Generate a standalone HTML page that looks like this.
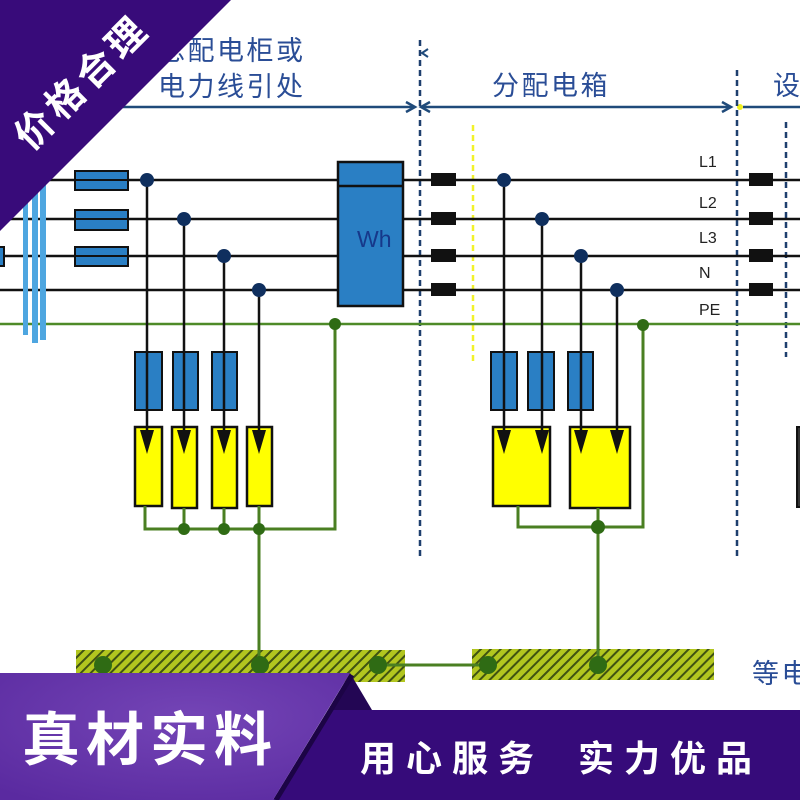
<!DOCTYPE html>
<html><head><meta charset="utf-8"><style>
html,body{margin:0;padding:0;background:#fff;}
svg{display:block}
</style></head><body>
<svg width="800" height="800" viewBox="0 0 800 800" xmlns="http://www.w3.org/2000/svg">
<defs>
<pattern id="hatch" patternUnits="userSpaceOnUse" width="7" height="7" patternTransform="rotate(45)">
<rect width="7" height="7" fill="#b2c61f"/>
<rect width="2" height="7" fill="#3f5212"/>
</pattern>
<radialGradient id="lp" cx="0.55" cy="0.35" r="0.8">
<stop offset="0" stop-color="#7445b6"/>
<stop offset="1" stop-color="#5a2aa0"/>
</radialGradient>
</defs>
<rect width="800" height="800" fill="#fff"/>

<!-- header texts -->
<g font-family="'Liberation Sans','Noto Sans CJK SC',sans-serif" font-size="27" fill="#2a4d96" letter-spacing="2.5">
<text x="158" y="60">总配电柜或</text>
<text x="158" y="96">电力线引处</text>
<text x="492" y="95">分配电箱</text>
<text x="773" y="95">设</text>
<text x="752" y="683">等电位</text>
</g>

<!-- arrow lines -->
<g stroke="#1f4a7a" stroke-width="2.5" fill="none">
<line x1="0" y1="107" x2="414" y2="107"/>
<polyline points="406,102 415,107 406,112"/>
<line x1="422" y1="107" x2="730" y2="107"/>
<polyline points="430,102 421,107 430,112"/>
<polyline points="722,102 731,107 722,112"/>
<line x1="743" y1="107" x2="800" y2="107"/>
<polyline points="428,49 422,53 428,57" stroke-width="2"/>
</g>
<circle cx="740" cy="107" r="3" fill="#f0f020"/>

<!-- dashed verticals -->
<g stroke="#1e3f6e" stroke-width="2.5" stroke-dasharray="6 4" fill="none">
<line x1="420" y1="40" x2="420" y2="560"/>
<line x1="737" y1="70" x2="737" y2="560"/>
<line x1="786" y1="122" x2="786" y2="357"/>
</g>
<line x1="473" y1="125" x2="473" y2="362" stroke="#f2f22a" stroke-width="2.5" stroke-dasharray="6 4"/>

<!-- main horizontal lines -->
<g stroke="#111" stroke-width="2.5">
<line x1="0" y1="180" x2="800" y2="180"/>
<line x1="0" y1="219" x2="800" y2="219"/>
<line x1="0" y1="256" x2="800" y2="256"/>
<line x1="0" y1="290" x2="800" y2="290"/>
</g>
<line x1="0" y1="324" x2="800" y2="324" stroke="#4e8a28" stroke-width="2.5"/>

<!-- labels -->
<g font-family="'Liberation Sans',sans-serif" font-size="16" fill="#222">
<text x="699" y="167">L1</text>
<text x="699" y="208">L2</text>
<text x="699" y="243">L3</text>
<text x="699" y="278">N</text>
<text x="699" y="315">PE</text>
</g>

<!-- left blue bars -->
<g fill="#4ea6e0">
<rect x="23" y="0" width="5" height="335"/>
<rect x="32" y="0" width="6" height="343"/>
<rect x="40" y="0" width="6" height="340"/>
</g>

<!-- top-left fuses -->
<g fill="#2a7fc4" stroke="#111" stroke-width="2">
<rect x="75" y="171" width="53" height="19"/>
<rect x="75" y="210" width="53" height="20"/>
<rect x="75" y="247" width="53" height="19"/>
<rect x="-10" y="247" width="14" height="19"/>
</g>
<g stroke="#111" stroke-width="2">
<line x1="75" y1="180" x2="128" y2="180"/>
<line x1="75" y1="219" x2="128" y2="219"/>
<line x1="75" y1="256" x2="128" y2="256"/>
</g>

<!-- Wh meter -->
<rect x="338" y="162" width="65" height="144" fill="#2a7fc4" stroke="#111" stroke-width="2.5"/>
<line x1="338" y1="186" x2="403" y2="186" stroke="#111" stroke-width="2.5"/>
<text x="357" y="247" font-family="'Liberation Sans',sans-serif" font-size="23" fill="#16388a">Wh</text>

<!-- black fuses -->
<g fill="#111">
<rect x="431" y="173" width="25" height="13"/>
<rect x="431" y="212" width="25" height="13"/>
<rect x="431" y="249" width="25" height="13"/>
<rect x="431" y="283" width="25" height="13"/>
<rect x="749" y="173" width="24" height="13"/>
<rect x="749" y="212" width="24" height="13"/>
<rect x="749" y="249" width="24" height="13"/>
<rect x="749" y="283" width="24" height="13"/>
</g>

<!-- lower-left SPD -->
<g fill="#2a7fc4" stroke="#111" stroke-width="2">
<rect x="135" y="352" width="27" height="58"/>
<rect x="173" y="352" width="25" height="58"/>
<rect x="212" y="352" width="25" height="58"/>
<rect x="491" y="352" width="26" height="58"/>
<rect x="528" y="352" width="26" height="58"/>
<rect x="568" y="352" width="25" height="58"/>
</g>
<g fill="#ffff00" stroke="#111" stroke-width="2.5">
<rect x="135" y="427" width="27" height="79"/>
<rect x="172" y="427" width="25" height="81"/>
<rect x="212" y="427" width="25" height="81"/>
<rect x="247" y="427" width="25" height="79"/>
<rect x="493" y="427" width="57" height="79"/>
<rect x="570" y="427" width="60" height="81"/>
</g>
<rect x="797" y="427" width="10" height="80" fill="#333" stroke="#111" stroke-width="2"/>

<!-- vertical black lines + arrowheads -->
<g stroke="#111" stroke-width="2.5">
<line x1="147" y1="180" x2="147" y2="440"/>
<line x1="184" y1="219" x2="184" y2="440"/>
<line x1="224" y1="256" x2="224" y2="440"/>
<line x1="259" y1="290" x2="259" y2="440"/>
<line x1="504" y1="180" x2="504" y2="440"/>
<line x1="542" y1="219" x2="542" y2="440"/>
<line x1="581" y1="256" x2="581" y2="440"/>
<line x1="617" y1="290" x2="617" y2="440"/>
</g>
<g fill="#111">
<polygon points="140,430 154,430 147,454"/>
<polygon points="177,430 191,430 184,454"/>
<polygon points="217,430 231,430 224,454"/>
<polygon points="252,430 266,430 259,454"/>
<polygon points="497,430 511,430 504,454"/>
<polygon points="535,430 549,430 542,454"/>
<polygon points="574,430 588,430 581,454"/>
<polygon points="610,430 624,430 617,454"/>
</g>

<!-- navy dots -->
<g fill="#0f2f5e">
<circle cx="147" cy="180" r="7"/>
<circle cx="184" cy="219" r="7"/>
<circle cx="224" cy="256" r="7"/>
<circle cx="259" cy="290" r="7"/>
<circle cx="504" cy="180" r="7"/>
<circle cx="542" cy="219" r="7"/>
<circle cx="581" cy="256" r="7"/>
<circle cx="617" cy="290" r="7"/>
</g>

<!-- green earth wiring -->
<g stroke="#4a7f22" stroke-width="3" fill="none">
<polyline points="145,506 145,529 335,529 335,324"/>
<line x1="184" y1="508" x2="184" y2="529"/>
<line x1="224" y1="508" x2="224" y2="529"/>
<line x1="259" y1="506" x2="259" y2="665"/>
<polyline points="518,506 518,527 643,527 643,324"/>
<line x1="598" y1="508" x2="598" y2="665"/>
<line x1="378" y1="665" x2="488" y2="665"/>
</g>

<!-- hatched bars -->
<rect x="76" y="650" width="329" height="32" fill="url(#hatch)"/>
<rect x="472" y="649" width="242" height="31" fill="url(#hatch)"/>
<line x1="378" y1="665" x2="488" y2="665" stroke="#4a7f22" stroke-width="3"/>
<line x1="259" y1="650" x2="259" y2="665" stroke="#4a7f22" stroke-width="3"/>
<line x1="598" y1="649" x2="598" y2="665" stroke="#4a7f22" stroke-width="3"/>

<g fill="#2f6b14">
<circle cx="335" cy="324" r="6"/>
<circle cx="643" cy="325" r="6"/>
<circle cx="184" cy="529" r="6"/>
<circle cx="224" cy="529" r="6"/>
<circle cx="259" cy="529" r="6"/>
<circle cx="598" cy="527" r="7"/>
<circle cx="103" cy="665" r="9"/>
<circle cx="260" cy="665" r="9"/>
<circle cx="378" cy="665" r="9"/>
<circle cx="488" cy="665" r="9"/>
<circle cx="598" cy="665" r="9"/>
</g>

<!-- top-left purple triangle -->
<polygon points="0,0 231,0 0,231" fill="#380b7a"/>
<text transform="translate(83,83) rotate(-45)" text-anchor="middle" dominant-baseline="central" font-family="'Liberation Sans','Noto Sans CJK SC',sans-serif" font-weight="bold" font-size="38" letter-spacing="5" fill="#fff">价格合理</text>

<!-- bottom banner -->
<polygon points="328,710 800,710 800,800 273,800" fill="#360b7a"/>
<polygon points="350,673 372,710 328,710" fill="#230654"/>
<line x1="276" y1="800" x2="352" y2="675" stroke="#1c0446" stroke-width="5"/>
<polygon points="0,673 350,673 273,800 0,800" fill="url(#lp)"/>
<text x="22" y="760" font-family="'Liberation Sans','Noto Sans CJK SC',sans-serif" font-weight="bold" font-size="58" letter-spacing="6" fill="#fff">真材实料</text>
<g font-family="'Liberation Sans','Noto Sans CJK SC',sans-serif" font-weight="bold" font-size="36" letter-spacing="10" fill="#fff">
<text x="360" y="771">用心服务</text>
<text x="578" y="771">实力优品</text>
</g>
</svg>
</body></html>
